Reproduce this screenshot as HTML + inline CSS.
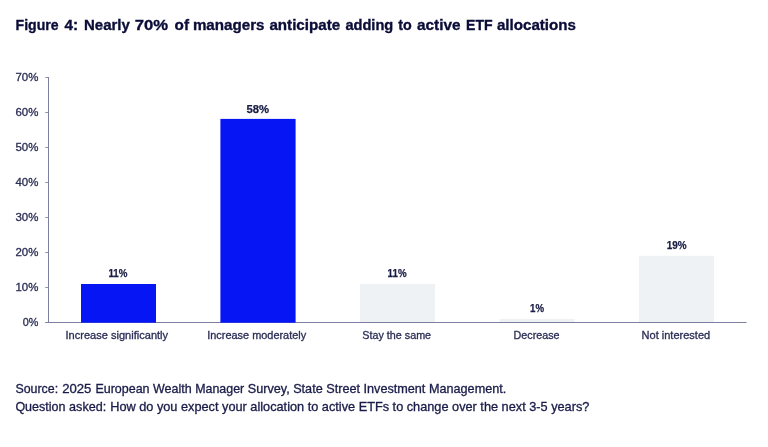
<!DOCTYPE html>
<html lang="en">
<head>
<meta charset="utf-8">
<title>Figure 4</title>
<style>
html,body{margin:0;padding:0;background:#fff;}
body{width:768px;height:447px;overflow:hidden;}
svg{display:block;}
text{font-family:"Liberation Sans",Arial,sans-serif;}
.title{font-weight:bold;font-size:15.2px;fill:#0b0d38;stroke:#0b0d38;stroke-width:0.35px;}
.ylab{font-size:10.7px;fill:#2a2e55;text-anchor:end;stroke:#2a2e55;stroke-width:0.3px;}
.xlab{font-size:10.4px;fill:#2a2e55;stroke:#2a2e55;stroke-width:0.3px;}
.val{font-weight:bold;font-size:10.6px;fill:#1a1d45;stroke:#1a1d45;stroke-width:0.25px;}
.src{font-size:12.1px;fill:#191c48;stroke:#191c48;stroke-width:0.3px;}
</style>
</head>
<body>
<svg width="768" height="447" viewBox="0 0 768 447">
<rect width="768" height="447" fill="#ffffff"/>
<text class="title" y="30.1"><tspan x="15.6" textLength="43.0" lengthAdjust="spacingAndGlyphs">Figure</tspan> <tspan x="64.5" textLength="13.6" lengthAdjust="spacingAndGlyphs">4:</tspan> <tspan x="84" textLength="45.9" lengthAdjust="spacingAndGlyphs">Nearly</tspan> <tspan x="134.8" textLength="33.3" lengthAdjust="spacingAndGlyphs">70%</tspan> <tspan x="174.6" textLength="14.4" lengthAdjust="spacingAndGlyphs">of</tspan> <tspan x="192.9" textLength="71.6" lengthAdjust="spacingAndGlyphs">managers</tspan> <tspan x="269.4" textLength="70.8" lengthAdjust="spacingAndGlyphs">anticipate</tspan> <tspan x="345.4" textLength="47.9" lengthAdjust="spacingAndGlyphs">adding</tspan> <tspan x="398.3" textLength="13.5" lengthAdjust="spacingAndGlyphs">to</tspan> <tspan x="417" textLength="43.5" lengthAdjust="spacingAndGlyphs">active</tspan> <tspan x="466" textLength="26.6" lengthAdjust="spacingAndGlyphs">ETF</tspan> <tspan x="496.9" textLength="79.1" lengthAdjust="spacingAndGlyphs">allocations</tspan></text>

<!-- bars -->
<rect x="360" y="284" width="75" height="38.5" fill="#eef2f5"/>
<rect x="499.6" y="318.9" width="75" height="3.6" fill="#eef2f5"/>
<rect x="638.9" y="255.8" width="75.2" height="66.7" fill="#eef2f5"/>

<!-- axes -->
<g stroke="#7c80a0" stroke-width="1" fill="none">
<line x1="48.5" y1="77" x2="48.5" y2="323"/>
<line x1="45.2" y1="322.5" x2="746.5" y2="322.5"/>
<line x1="45.2" y1="77.5" x2="48.5" y2="77.5" stroke-opacity="0.85"/>
<line x1="45.2" y1="112.5" x2="48.5" y2="112.5" stroke-opacity="0.85"/>
<line x1="45.2" y1="147.5" x2="48.5" y2="147.5" stroke-opacity="0.85"/>
<line x1="45.2" y1="182.5" x2="48.5" y2="182.5" stroke-opacity="0.85"/>
<line x1="45.2" y1="217.5" x2="48.5" y2="217.5" stroke-opacity="0.85"/>
<line x1="45.2" y1="252.5" x2="48.5" y2="252.5" stroke-opacity="0.85"/>
<line x1="45.2" y1="287.5" x2="48.5" y2="287.5" stroke-opacity="0.85"/>
</g>

<!-- blue bars -->
<rect x="81" y="284" width="75" height="38.7" fill="#0615f3"/>
<rect x="220.4" y="118.9" width="75.2" height="203.8" fill="#0615f3"/>

<!-- y labels -->
<text class="ylab" x="38.4" y="81" textLength="22.9" lengthAdjust="spacingAndGlyphs">70%</text>
<text class="ylab" x="38.4" y="116" textLength="22.9" lengthAdjust="spacingAndGlyphs">60%</text>
<text class="ylab" x="38.4" y="151" textLength="22.9" lengthAdjust="spacingAndGlyphs">50%</text>
<text class="ylab" x="38.4" y="186" textLength="22.9" lengthAdjust="spacingAndGlyphs">40%</text>
<text class="ylab" x="38.4" y="221" textLength="22.9" lengthAdjust="spacingAndGlyphs">30%</text>
<text class="ylab" x="38.4" y="256" textLength="22.9" lengthAdjust="spacingAndGlyphs">20%</text>
<text class="ylab" x="38.4" y="291" textLength="22.9" lengthAdjust="spacingAndGlyphs">10%</text>
<text class="ylab" x="38.4" y="326" textLength="15.6" lengthAdjust="spacingAndGlyphs">0%</text>

<!-- value labels -->
<text class="val" x="108.4" y="277" textLength="19" lengthAdjust="spacingAndGlyphs">11%</text>
<text class="val" x="246.5" y="112.7" textLength="22.6" lengthAdjust="spacingAndGlyphs">58%</text>
<text class="val" x="387.6" y="277" textLength="19" lengthAdjust="spacingAndGlyphs">11%</text>
<text class="val" x="530" y="312.3" textLength="14" lengthAdjust="spacingAndGlyphs">1%</text>
<text class="val" x="666.7" y="249.3" textLength="19.9" lengthAdjust="spacingAndGlyphs">19%</text>

<!-- x labels -->
<text class="xlab" x="65.5" y="338.9" textLength="102.6" lengthAdjust="spacingAndGlyphs">Increase significantly</text>
<text class="xlab" x="207.2" y="338.9" textLength="99.0" lengthAdjust="spacingAndGlyphs">Increase moderately</text>
<text class="xlab" x="362.3" y="338.9" textLength="68.8" lengthAdjust="spacingAndGlyphs">Stay the same</text>
<text class="xlab" x="513.6" y="338.9" textLength="46.0" lengthAdjust="spacingAndGlyphs">Decrease</text>
<text class="xlab" x="641.6" y="338.9" textLength="68.6" lengthAdjust="spacingAndGlyphs">Not interested</text>

<!-- source -->
<text class="src" y="393"><tspan x="15.4" textLength="42.7" lengthAdjust="spacingAndGlyphs">Source:</tspan> <tspan x="62.2" textLength="29.2" lengthAdjust="spacingAndGlyphs">2025</tspan> <tspan x="95.4" textLength="96.2" lengthAdjust="spacingAndGlyphs">European Wealth</tspan> <tspan x="195.2" textLength="49.0" lengthAdjust="spacingAndGlyphs">Manager</tspan> <tspan x="247.7" textLength="258.6" lengthAdjust="spacingAndGlyphs">Survey, State Street Investment Management.</tspan></text>
<text class="src" y="411"><tspan x="15.4" textLength="50.0" lengthAdjust="spacingAndGlyphs">Question</tspan> <tspan x="69.1" textLength="37.1" lengthAdjust="spacingAndGlyphs">asked:</tspan> <tspan x="110.2" textLength="479.2" lengthAdjust="spacingAndGlyphs">How do you expect your allocation to active ETFs to change over the next 3-5 years?</tspan></text>
</svg>
</body>
</html>
